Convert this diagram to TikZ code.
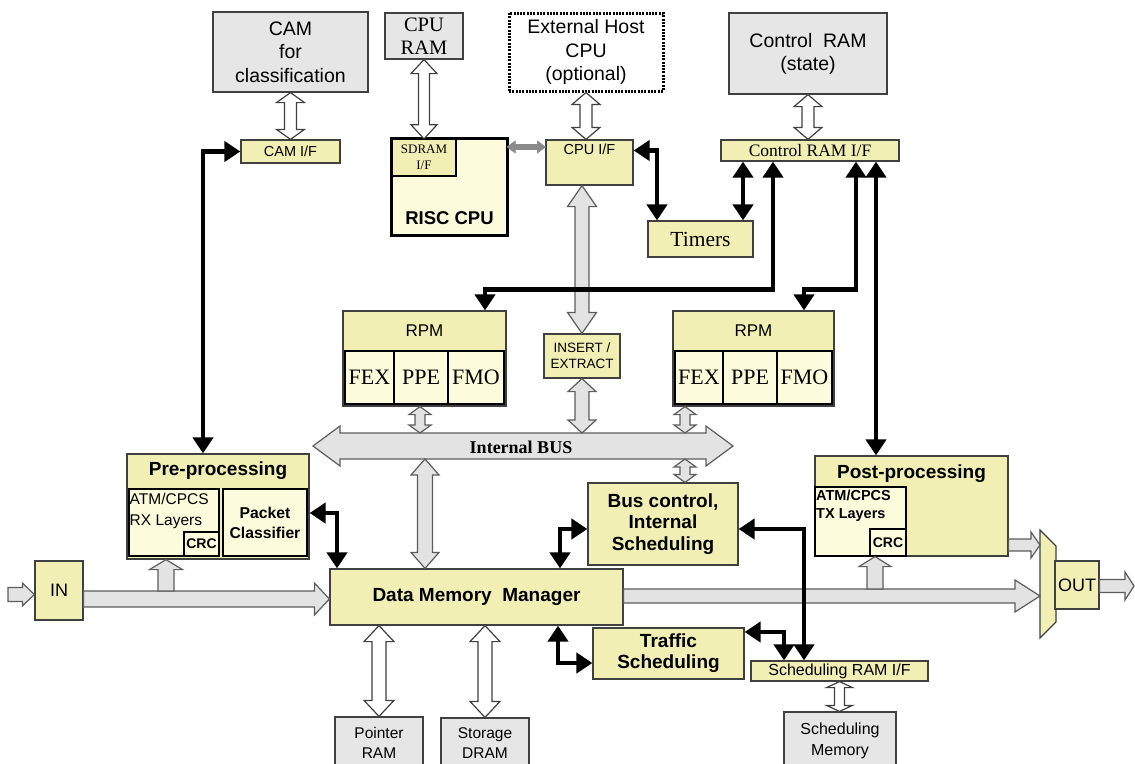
\documentclass[tikz,border=0pt]{standalone}
\usepackage{fontspec}
\setmainfont{Liberation Sans}
\newfontfamily\tnr{Liberation Serif}
\usetikzlibrary{arrows.meta,calc}

\definecolor{ykhaki}{HTML}{F2EFB5}
\definecolor{ylight}{HTML}{FCFCDC}
\definecolor{boxgray}{HTML}{E6E6E6}
\definecolor{edge}{HTML}{404040}
\definecolor{flowgray}{HTML}{E3E3E3}
\definecolor{flowedge}{HTML}{5C5C5C}
\definecolor{linkgray}{HTML}{8A8A8A}

\newcommand\fsz[2]{\fontsize{#1}{#2}\selectfont}

% block arrows: #1 style, #2 first point, #3 second point,
% #4 half shaft width, #5 half head width, #6 head length
% vertical, heads at both ends (x taken from the first point)
\newcommand\fatVV[6]{%
  \path[#1] let \p1=#2, \p2=#3 in
    (\x1,\y1) -- (\x1+#5pt,\y1-#6pt) -- (\x1+#4pt,\y1-#6pt) -- (\x1+#4pt,\y2+#6pt)
    -- (\x1+#5pt,\y2+#6pt) -- (\x1,\y2) -- (\x1-#5pt,\y2+#6pt) -- (\x1-#4pt,\y2+#6pt)
    -- (\x1-#4pt,\y1-#6pt) -- (\x1-#5pt,\y1-#6pt) -- cycle;}
% horizontal, heads at both ends (y taken from the first point)
\newcommand\fatHH[6]{%
  \path[#1] let \p1=#2, \p2=#3 in
    (\x1,\y1) -- (\x1+#6pt,\y1+#5pt) -- (\x1+#6pt,\y1+#4pt) -- (\x2-#6pt,\y1+#4pt)
    -- (\x2-#6pt,\y1+#5pt) -- (\x2,\y1) -- (\x2-#6pt,\y1-#5pt) -- (\x2-#6pt,\y1-#4pt)
    -- (\x1+#6pt,\y1-#4pt) -- (\x1+#6pt,\y1-#5pt) -- cycle;}
% horizontal, head on the right
\newcommand\fatR[6]{%
  \path[#1] let \p1=#2, \p2=#3 in
    (\x1,\y1+#4pt) -- (\x2-#6pt,\y1+#4pt) -- (\x2-#6pt,\y1+#5pt) -- (\x2,\y1)
    -- (\x2-#6pt,\y1-#5pt) -- (\x2-#6pt,\y1-#4pt) -- (\x1,\y1-#4pt) -- cycle;}
% vertical, head on top (#2 bottom, #3 top)
\newcommand\fatU[6]{%
  \path[#1] let \p1=#2, \p2=#3 in
    (\x1-#4pt,\y1) -- (\x1-#4pt,\y2-#6pt) -- (\x1-#5pt,\y2-#6pt) -- (\x1,\y2)
    -- (\x1+#5pt,\y2-#6pt) -- (\x1+#4pt,\y2-#6pt) -- (\x1+#4pt,\y1) -- cycle;}

\tikzset{
  ybox/.style={draw=edge, fill=ykhaki, line width=1.2pt, inner sep=0pt, align=center},
  gbox/.style={draw=edge, fill=boxgray, line width=1.2pt, inner sep=0pt, align=center},
  sub/.style={draw=black, fill=ylight, line width=1.2pt, inner sep=0pt, align=center},
  lbl/.style={inner sep=0pt, align=center},
  sz/.style 2 args={minimum width=#1pt, minimum height=#2pt},
  hollow/.style={fill=white, draw=edge, line width=1.2pt},
  flow/.style={fill=flowgray, draw=flowedge, line width=1.2pt},
  link/.style={fill=linkgray, draw=linkgray, line width=0.6pt},
  conn/.style={line width=4.5pt,
    {Triangle[length=16pt,width=20pt]}-{Triangle[length=16pt,width=20pt]}},
}

\begin{document}
\begin{tikzpicture}[x=1pt,y=-1pt]
\useasboundingbox (0,0) rectangle (1135,763);
\fill[white] (0,0) rectangle (1135,763);

% ---------- external memories and host ----------
\node[gbox, sz={155}{80}, font=\fsz{19.5}{23.5}] (cam) at (290.5,52) {CAM\\for\\classification};
\node[gbox, sz={78}{46}, font=\tnr\fsz{20.5}{23}] (cpuram) at (424,36) {CPU\\RAM};
\node[draw=black, fill=white, line width=3pt, dash pattern=on 2pt off 1.3pt,
      inner sep=0pt, align=center, sz={154}{78}, font=\fsz{19.5}{23.5}] (ext) at (586,52)
      {External Host\\CPU\\(optional)};
\node[gbox, sz={158}{81}, font=\fsz{19.5}{23}] (ctrlram) at (808,53.5) {Control\ \ RAM\\(state)};

% ---------- interfaces ----------
\node[ybox, sz={99}{23}, font=\fsz{14.5}{17}] (camif) at (290.5,151.5) {CAM I/F};
\node[ybox, sz={87}{45}] (cpuif) at (589.5,162.5) {};
\node[lbl, font=\fsz{14.5}{17}] (cpuiflbl) at (589.5,149) {CPU I/F};
\node[ybox, sz={178}{21}, font=\tnr\fsz{17.5}{20}] (ctrlif) at (810,150.5) {Control RAM I/F};
\node[ybox, sz={105}{36}, font=\tnr\fsz{21.5}{24}] (timers) at (700.5,239) {Timers};

% ---------- RISC CPU ----------
\node[fill=ylight, inner sep=0pt, sz={115}{96}] (risc) at (449.5,187) {};
\node[draw=black, fill=ykhaki, line width=1.2pt, inner sep=0pt, align=center,
      sz={64}{37}, font=\tnr\fsz{13}{16}] (sdram) at (424,157.5) {SDRAM\\I/F};
\draw[line width=3pt] (risc.north west) rectangle (risc.south east);
\node[lbl, font=\bfseries\fsz{18.5}{22}] (risclbl) at (449.5,218) {RISC CPU};

% ---------- RPM blocks ----------
\node[ybox, sz={163}{95}] (rpm1) at (424.5,358.5) {};
\node[lbl, font=\fsz{17}{20}] (rpm1lbl) at (424.5,331) {RPM};
\node[sub, sz={49}{53}, font=\tnr\fsz{22}{24}] (fex1) at (369.5,377.5) {FEX};
\node[sub, sz={54}{53}, font=\tnr\fsz{22}{24}] (ppe1) at (421,377.5) {PPE};
\node[sub, sz={56}{53}, font=\tnr\fsz{22}{24}] (fmo1) at (476,377.5) {FMO};

\node[ybox, sz={161}{95}] (rpm2) at (753.5,358.5) {};
\node[lbl, font=\fsz{17}{20}] (rpm2lbl) at (753.5,331) {RPM};
\node[sub, sz={48}{53}, font=\tnr\fsz{22}{24}] (fex2) at (699,377.5) {FEX};
\node[sub, sz={54}{53}, font=\tnr\fsz{22}{24}] (ppe2) at (750,377.5) {PPE};
\node[sub, sz={55}{53}, font=\tnr\fsz{22}{24}] (fmo2) at (804.5,377.5) {FMO};

\node[ybox, sz={76}{44}, font=\fsz{13.5}{16}] (insert) at (582,356) {INSERT /\\EXTRACT};

% ---------- pre-processing ----------
\node[ybox, sz={182}{105}] (pre) at (218,506.5) {};
\node[lbl, font=\bfseries\fsz{19}{22}] (prelbl) at (218,471) {Pre-processing};
\node[sub, sz={90}{67}] (rx) at (174,522.5) {};
\node[lbl, anchor=west, align=left, font=\fsz{15.5}{21}] (rxlbl) at (129.5,511) {ATM/CPCS\\RX Layers};
\node[sub, sz={35}{24}, font=\bfseries\fsz{14}{16}] (crc1) at (201.5,544) {CRC};
\node[sub, sz={84}{67}, font=\bfseries\fsz{15.7}{20}] (pc) at (265,522.5) {Packet\\Classifier};

% ---------- main data path ----------
\node[ybox, sz={48}{59}, font=\fsz{18}{20}] (in) at (59,590.5) {IN};
\node[ybox, sz={293}{56}, font=\bfseries\fsz{19}{22}] (dmm) at (476.5,597) {Data Memory\ \ Manager};
\node[ybox, sz={150}{82}, font=\bfseries\fsz{19}{21.5}] (busctl) at (663,524) {Bus control,\\Internal\\Scheduling};
\node[ybox, sz={151}{51}, font=\bfseries\fsz{19}{21}] (traffic) at (668.5,653.5) {Traffic\\Scheduling};
\node[ybox, sz={177}{20}, font=\fsz{16}{18}] (schedif) at (839.5,671) {Scheduling RAM I/F};
\node[gbox, sz={112}{58}, font=\fsz{16}{21}] (schedmem) at (840,741) {Scheduling\\Memory};
\node[gbox, sz={88}{51}, font=\fsz{15.5}{20}] (pointer) at (379,742.5) {Pointer\\RAM};
\node[gbox, sz={88}{50}, font=\fsz{15.5}{20}] (storage) at (485,743) {Storage\\DRAM};

% ---------- post-processing ----------
\node[ybox, sz={193}{100}] (post) at (911.5,506) {};
\node[lbl, font=\bfseries\fsz{19}{22}] (postlbl) at (911.5,474) {Post-processing};
\node[sub, sz={91}{69}] (tx) at (860.5,521.5) {};
\node[lbl, anchor=west, align=left, font=\bfseries\fsz{14.5}{18}] (txlbl) at (816,506) {ATM/CPCS\\TX Layers};
\node[sub, sz={36}{27}, font=\bfseries\fsz{14}{16}] (crc2) at (888,542.5) {CRC};

% ---------- output multiplexer ----------
\draw[fill=ykhaki, draw=edge, line width=1.2pt] (1040,530) -- (1056,546) -- (1056,622) -- (1040,638) -- cycle;
\coordinate (muxW) at (1040,584);
\node[ybox, sz={44}{48}, font=\fsz{18}{20}] (out) at (1077,585) {OUT};

% ---------- internal bus ----------
\coordinate (busW) at (313,446);
\coordinate (busE) at (733,446);
\coordinate (busTop) at (523,433);
\coordinate (busBot) at (523,459);
\fatHH{flow}{(busW)}{(busE)}{13}{20}{27}
\node[lbl, font=\tnr\bfseries\fsz{18}{20}] (buslbl) at (521,447) {Internal BUS};

% ---------- block arrows ----------
\fatVV{hollow}{(cam.south)}{(camif.north)}{6}{14}{10}
\fatVV{hollow}{(cpuram.south)}{(risc.north)}{5.5}{13}{14}
\fatVV{hollow}{(ext.south)}{(cpuif.north)}{6}{14}{12}
\fatVV{hollow}{(ctrlram.south)}{(ctrlif.north)}{6}{14}{12}
\fatHH{link}{([yshift=40pt]risc.east)}{(cpuif.west)}{2.5}{6}{8}
\fatVV{flow}{(insert.north |- cpuif.south)}{(insert.north)}{7}{14.5}{21}
\fatVV{flow}{(insert.south)}{(busTop)}{7}{14}{13}
\fatVV{flow}{([xshift=-4.5pt]rpm1.south)}{(busTop)}{5}{11}{8}
\coordinate (busJ) at ([xshift=-68.5pt]rpm2.south);
\fatVV{flow}{(busJ)}{(busTop)}{5}{11}{8}
\fatVV{flow}{(busBot -| busJ)}{(busctl.north)}{5}{11}{8}
\coordinate (dmmK) at ([xshift=-51.5pt]dmm.north);
\fatVV{flow}{(busBot -| dmmK)}{(dmmK)}{7.5}{14}{16}

\coordinate (src) at (8,594.5);
\coordinate (tapIn) at (166,591);
\coordinate (tapOut) at (875,589);
\coordinate (sink) at (1134,586);
\fatR{flow}{(src)}{(in.west)}{7}{11.5}{12}
\fatR{flow}{([yshift=-8.5pt]in.east)}{(dmm.west)}{8}{16}{15}
\fatU{flow}{(tapIn)}{(pre.south)}{8}{16.5}{10}
\fatR{flow}{([yshift=1pt]dmm.east)}{(muxW)}{7}{16}{25}
\fatU{flow}{(tapOut)}{(post.south)}{8}{16}{10}
\fatR{flow}{([yshift=-39pt]post.east)}{(muxW)}{6}{13}{9}
\fatR{flow}{([yshift=-1pt]out.east)}{(sink)}{6.5}{14}{9}

\fatVV{hollow}{(pointer.north |- dmm.south)}{(pointer.north)}{7}{15}{16}
\fatVV{hollow}{(storage.north |- dmm.south)}{(storage.north)}{7}{15}{16}
\fatVV{hollow}{(schedif.south)}{(schedmem.north)}{5}{13}{6}

% ---------- control connections ----------
\draw[conn] (camif.west) -| ([xshift=-15pt]pre.north);
\draw[conn] ([yshift=12pt]cpuif.east) -| ([xshift=-43.5pt]timers.north);
\coordinate (tmR) at ([xshift=42.5pt]timers.north);
\draw[conn] (tmR) -- (tmR |- ctrlif.south);
\coordinate (cr1) at ([xshift=-37pt]ctrlif.south);
\coordinate (r1in) at ([xshift=60.5pt]rpm1.north);
\draw[conn] (cr1) |- ($(r1in)+(0,-21)$) -- (r1in);
\coordinate (cr2) at ([xshift=46pt]ctrlif.south);
\coordinate (r2in) at ([xshift=50.5pt]rpm2.north);
\draw[conn] (cr2) |- ($(r2in)+(0,-21)$) -- (r2in);
\coordinate (cr3) at ([xshift=66pt]ctrlif.south);
\draw[conn] (cr3) -- (cr3 |- post.north);
\draw[conn] ([yshift=-6.5pt]pre.east) -| ([xshift=-139.5pt]dmm.north);
\draw[conn] ([yshift=-5pt]busctl.west) -| ([xshift=83.5pt]dmm.north);
\draw[conn] ([yshift=-5pt]busctl.east) -| ([xshift=-35.5pt]schedif.north);
\draw[conn] ([xshift=81.5pt]dmm.south) |- ([yshift=-9.5pt]traffic.west);
\draw[conn] ([yshift=21.5pt]traffic.east) -| ([xshift=-55.5pt]schedif.north);
\end{tikzpicture}
\end{document}
